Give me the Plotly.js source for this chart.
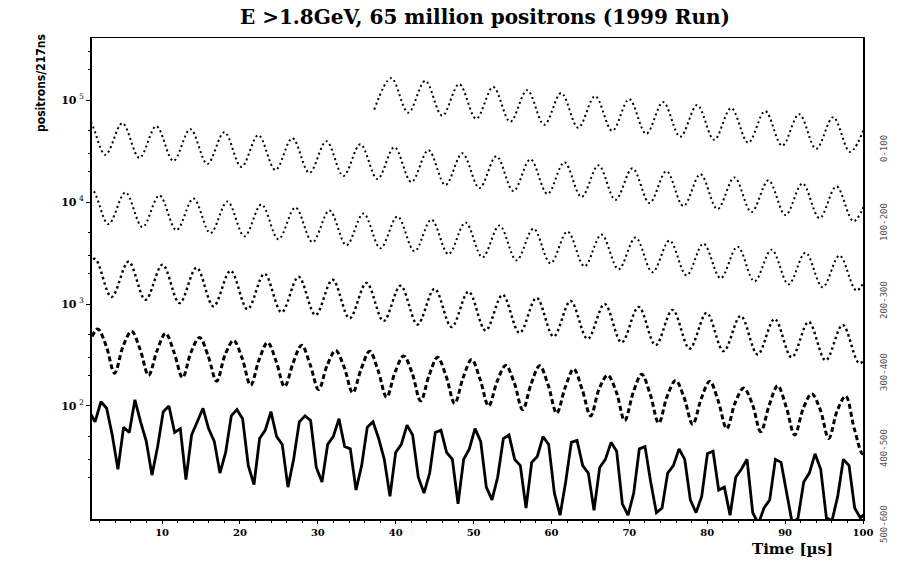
<!DOCTYPE html>
<html>
<head>
<meta charset="utf-8">
<script src="https://cdn.plot.ly/plotly-3.0.1.min.js"></script>
<style>html,body{margin:0;padding:0;background:#fff;}#chart{width:905px;height:561px;}</style>
</head>
<body>
<div id="chart"></div>
<script>
// Segment 0-100 us (starts at ~37 us)
const rowA_x = [37.24, 39.42, 41.60, 43.79, 45.97, 48.15, 50.33, 52.52, 54.70, 56.88, 59.07, 61.25, 63.43, 65.61, 67.80, 69.98, 72.16, 74.34, 76.53, 78.71, 80.89, 83.07, 85.26, 87.44, 89.62, 91.80, 93.99, 96.17, 98.35, 100.53];
const rowA_y = [80400, 164000, 75100, 154000, 70200, 143000, 65600, 134000, 61200, 125000, 57200, 117000, 53500, 109000, 49900, 102000, 46700, 95400, 43600, 89200, 40700, 83300, 38100, 77800, 35600, 72700, 33200, 67900, 31000, 63500];
// Segment 100-200 us
const rowB_x = [-1.65, 0.53, 2.71, 4.90, 7.08, 9.26, 11.45, 13.63, 15.81, 18.00, 20.18, 22.36, 24.55, 26.73, 28.91, 31.10, 33.28, 35.46, 37.65, 39.83, 42.01, 44.20, 46.38, 48.56, 50.75, 52.93, 55.11, 57.30, 59.48, 61.66, 63.85, 66.03, 68.21, 70.40, 72.58, 74.76, 76.94, 79.13, 81.31, 83.49, 85.68, 87.86, 90.04, 92.23, 94.41, 96.59, 98.78, 100.96];
const rowB_y = [31000, 63500, 29000, 59300, 27100, 55400, 25300, 51800, 23600, 48400, 22100, 45200, 20600, 42200, 19300, 39400, 18000, 36800, 16800, 34400, 15700, 32200, 14700, 30000, 13700, 28100, 12800, 26200, 12000, 24500, 11200, 22900, 10500, 21400, 9770, 20000, 9130, 18700, 8530, 17400, 7970, 16300, 7440, 15200, 6950, 14200, 6500, 13300];
// Segment 200-300 us
const rowC_x = [-1.26, 0.93, 3.11, 5.29, 7.48, 9.66, 11.84, 14.03, 16.21, 18.39, 20.58, 22.76, 24.94, 27.12, 29.31, 31.49, 33.67, 35.86, 38.04, 40.22, 42.41, 44.59, 46.77, 48.96, 51.14, 53.32, 55.51, 57.69, 59.87, 62.06, 64.24, 66.42, 68.61, 70.79, 72.97, 75.16, 77.34, 79.52, 81.71, 83.89, 86.07, 88.26, 90.44, 92.62, 94.81, 96.99, 99.17, 101.36];
const rowC_y = [6500, 13300, 6070, 12400, 5670, 11600, 5300, 10800, 4950, 10100, 4620, 9460, 4320, 8840, 4040, 8260, 3770, 7710, 3520, 7210, 3290, 6730, 3080, 6290, 2870, 5880, 2680, 5490, 2510, 5130, 2340, 4790, 2190, 4480, 2050, 4180, 1910, 3910, 1790, 3650, 1670, 3410, 1560, 3190, 1460, 2980, 1360, 2780];
// Segment 300-400 us
const rowD_x = [-0.86, 1.32, 3.50, 5.69, 7.87, 10.05, 12.24, 14.42, 16.60, 18.79, 20.97, 23.15, 25.34, 27.52, 29.70, 31.89, 34.07, 36.25, 38.44, 40.62, 42.80, 44.99, 47.17, 49.35, 51.54, 53.72, 55.90, 58.09, 60.27, 62.45, 64.64, 66.82, 69.00, 71.19, 73.37, 75.55, 77.74, 79.92, 82.10, 84.29, 86.47, 88.65, 90.84, 93.02, 95.20, 97.39, 99.57, 101.75];
const rowD_y = [1250, 2780, 1170, 2600, 1100, 2430, 1020, 2270, 950, 2120, 890, 1980, 830, 1850, 780, 1730, 725, 1610, 680, 1510, 630, 1410, 595, 1320, 550, 1230, 520, 1150, 480, 1070, 455, 1000, 420, 937, 395, 876, 365, 818, 345, 764, 320, 714, 300, 667, 280, 623, 262, 582];
// Segment 400-500 us
const rowE_x = [-0.47, 0.62, 1.72, 2.81, 3.90, 4.99, 6.08, 7.17, 8.26, 9.36, 10.45, 11.54, 12.63, 13.73, 14.82, 15.91, 17.00, 18.09, 19.18, 20.27, 21.37, 22.46, 23.55, 24.64, 25.73, 26.83, 27.92, 29.01, 30.10, 31.19, 32.28, 33.38, 34.47, 35.56, 36.65, 37.74, 38.83, 39.92, 41.02, 42.11, 43.20, 44.29, 45.38, 46.48, 47.57, 48.66, 49.75, 50.84, 51.93, 53.03, 54.12, 55.21, 56.30, 57.39, 58.48, 59.58, 60.67, 61.76, 62.85, 63.94, 65.03, 66.13, 67.22, 68.31, 69.40, 70.49, 71.58, 72.68, 73.77, 74.86, 75.95, 77.04, 78.13, 79.23, 80.32, 81.41, 82.50, 83.59, 84.68, 85.78, 86.87, 87.96, 89.05, 90.14, 91.23, 92.33, 93.42, 94.51, 95.60, 96.69, 97.78, 98.88, 99.97, 101.06, 102.15];
const rowE_y = [245, 410, 570, 390, 210, 385, 540, 360, 200, 350, 515, 335, 190, 340, 470, 310, 175, 318, 440, 295, 160, 285, 420, 275, 155, 265, 395, 255, 145, 250, 350, 240, 135, 230, 345, 222, 122, 215, 310, 210, 112, 200, 300, 195, 106, 190, 285, 182, 100, 175, 250, 170, 92, 165, 248, 160, 85, 152, 230, 145, 80, 148, 200, 138, 72, 135, 205, 130, 68, 125, 178, 120, 66, 118, 175, 112, 60, 108, 150, 105, 56, 102, 158, 98, 52, 95, 132, 92, 48, 90, 125, 60, 34, 80, 122];
// Segment 500-600 us
const rowF_x = [-0.07, 0.66, 1.39, 2.15, 2.88, 3.60, 4.33, 5.06, 5.79, 6.51, 7.24, 7.97, 8.70, 9.43, 10.15, 10.88, 11.61, 12.34, 13.06, 13.79, 14.52, 15.25, 15.97, 16.70, 17.43, 18.16, 18.89, 19.61, 20.34, 21.07, 21.80, 22.52, 23.25, 23.98, 24.71, 25.43, 26.16, 26.89, 27.62, 28.35, 29.07, 29.80, 30.53, 31.26, 31.98, 32.71, 33.44, 34.17, 34.90, 35.62, 36.35, 37.08, 37.81, 38.53, 39.26, 39.99, 40.72, 41.45, 42.17, 42.90, 43.63, 44.36, 45.08, 45.81, 46.54, 47.27, 48.00, 48.72, 49.45, 50.18, 50.91, 51.63, 52.36, 53.09, 53.82, 54.55, 55.27, 56.00, 56.73, 57.46, 58.18, 58.91, 59.64, 60.37, 61.10, 61.82, 62.55, 63.28, 64.01, 64.73, 65.46, 66.19, 66.92, 67.65, 68.37, 69.10, 69.83, 70.56, 71.28, 72.01, 72.74, 73.47, 74.20, 74.92, 75.65, 76.38, 77.11, 77.83, 78.56, 79.29, 80.02, 80.75, 81.47, 82.20, 82.93, 83.66, 84.38, 85.11, 85.84, 86.57, 87.29, 88.02, 88.75, 89.48, 90.20, 90.93, 91.66, 92.39, 93.11, 93.84, 94.57, 95.30, 96.02, 96.75, 97.48, 98.21, 98.93, 99.66, 100.39];
const rowF_y = [45, 88, 70, 110, 95, 52, 24, 62, 55, 115, 70, 45, 21, 40, 88, 100, 55, 60, 19, 52, 70, 95, 60, 45, 22, 35, 80, 92, 75, 26, 17, 48, 58, 88, 50, 42, 16, 30, 70, 80, 72, 25, 18, 42, 50, 75, 40, 38, 15, 26, 62, 70, 48, 30, 13, 35, 42, 65, 52, 20, 14, 22, 55, 58, 35, 30, 11, 30, 38, 60, 45, 16, 12, 20, 48, 52, 30, 26, 10, 28, 32, 50, 42, 14, 8.5, 18, 44, 46, 26, 22, 9.5, 25, 30, 44, 36, 11, 8.5, 14, 38, 40, 18, 9, 10, 22, 26, 38, 30, 12, 9, 13, 34, 36, 15, 16, 8.5, 20, 24, 30, 9, 7, 10, 12, 30, 28, 14, 7, 8, 18, 22, 34, 24, 8, 7.5, 13, 30, 26, 10, 8, 9];

const segLabels = ["0-100", "100-200", "200-300", "300-400", "400-500", "500-600"];
const xTickVals = [10, 20, 30, 40, 50, 60, 70, 80, 90, 100];
const yTickVals = [100, 1000, 10000, 100000];
const yTickText = ["<b>10</b><sup> 2</sup>", "<b>10</b><sup> 3</sup>", "<b>10</b><sup> 4</sup>", "<b>10</b><sup> 5</sup>"];
const yMinorVals = [20, 30, 50, 200, 300, 500, 2000, 3000, 5000, 20000, 30000, 50000, 200000, 300000];

const rows = [
  {x: rowA_x, y: rowA_y, dash: "2px,3px", w: 2, shape: "spline"},
  {x: rowB_x, y: rowB_y, dash: "2px,3px", w: 2, shape: "spline"},
  {x: rowC_x, y: rowC_y, dash: "2px,3px", w: 2, shape: "spline"},
  {x: rowD_x, y: rowD_y, dash: "2.5px,3px", w: 2.4, shape: "spline"},
  {x: rowE_x, y: rowE_y, dash: "5px,3px", w: 3, shape: "spline"},
  {x: rowF_x, y: rowF_y, dash: "solid", w: 2.8, shape: "linear"}
];

const traces = rows.map((r, i) => ({
  type: "scatter", mode: "lines", x: r.x, y: r.y, name: segLabels[i],
  line: {color: "#000", width: r.w, dash: r.dash, shape: r.shape, smoothing: 1},
  hoverinfo: "skip", showlegend: false
}));

const labelY = [148, 222, 300, 372, 448, 524];
const annotations = segLabels.map((s, i) => ({
  text: s, xref: "paper", yref: "paper", x: (884 - 92) / 771, y: (519 - labelY[i]) / 481,
  xanchor: "center", yanchor: "middle",
  showarrow: false, textangle: -90, font: {family: "DejaVu Sans Mono", size: 9, color: "#555"}
}));
annotations.push({
  text: "positrons/217ns", xref: "paper", yref: "paper", x: (41 - 92) / 771, y: (519 - 83) / 481,
  xanchor: "center", yanchor: "middle",
  showarrow: false, textangle: -90, font: {family: "DejaVu Sans Condensed, Liberation Sans Narrow, sans-serif", size: 12, color: "#000", weight: "bold"}
});
annotations.push({
  text: "<b>Time [µs]</b>", xref: "paper", yref: "paper", x: (792 - 92) / 771, y: (519 - 549) / 481,
  xanchor: "center", yanchor: "middle",
  showarrow: false, font: {family: "DejaVu Serif", size: 15, color: "#000"}
});

const layout = {
  width: 905, height: 561,
  margin: {l: 92, r: 42, t: 38, b: 42},
  paper_bgcolor: "#fff", plot_bgcolor: "#fff",
  title: {text: "<b>E >1.8GeV, 65 million positrons (1999 Run)</b>", x: 485 / 905, xanchor: "center", y: 1 - 17 / 561, yanchor: "middle",
          font: {family: "DejaVu Serif", size: 20, color: "#000"}},
  xaxis: {range: [1, 100], showgrid: false, zeroline: false, showline: true, mirror: true, linecolor: "#000", linewidth: 1.5,
          ticks: "outside", ticklen: 3, tickcolor: "#000", tickvals: xTickVals,
          tickfont: {family: "DejaVu Serif", size: 10, color: "#000", weight: "bold"},
          minor: {ticks: "outside", ticklen: 2, tickmode: "linear", tick0: 0, dtick: 2, tickcolor: "#000"}},
  yaxis: {type: "log", range: [0.892, 5.608], showgrid: false, zeroline: false, showline: true, mirror: true, linecolor: "#000", linewidth: 2,
          ticks: "outside", ticklen: 4, tickcolor: "#000", tickvals: yTickVals, ticktext: yTickText,
          tickfont: {family: "DejaVu Serif", size: 11, color: "#000"},
          minor: {ticks: "outside", ticklen: 2, tickmode: "array", tickvals: yMinorVals, tickcolor: "#000"}},
  annotations: annotations
};

Plotly.newPlot("chart", traces, layout, {staticPlot: true, displayModeBar: false});
</script>
</body>
</html>
